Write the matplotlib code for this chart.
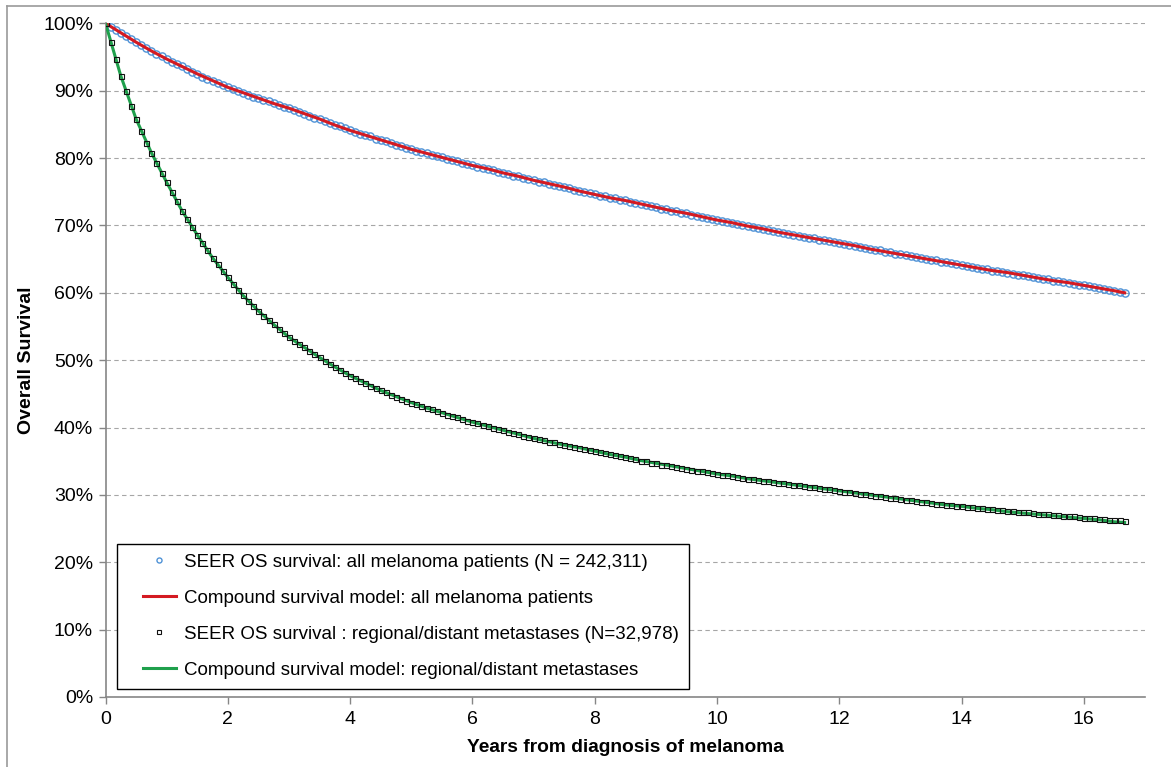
import matplotlib
matplotlib.use('Agg')
import matplotlib.pyplot as plt
from matplotlib.legend_handler import HandlerLine2D
import numpy as np

# 1. data (% surviving, one value per month)
months = np.arange(201)

seer_all = [
    100.0, 99.5, 99.0, 98.6, 98.1, 97.6, 97.2, 96.8, 96.3, 95.9, 95.5, 95.1, 94.7,
    94.3, 93.9, 93.6, 93.2, 92.8, 92.5, 92.1, 91.8, 91.5, 91.1, 90.8, 90.5,
    90.2, 89.9, 89.7, 89.4, 89.1, 88.9, 88.6, 88.4, 88.1, 87.9, 87.6, 87.4,
    87.1, 86.9, 86.6, 86.3, 86.0, 85.8, 85.5, 85.2, 84.9, 84.7, 84.4, 84.1,
    83.9, 83.6, 83.4, 83.2, 82.9, 82.7, 82.5, 82.2, 82.0, 81.8, 81.5, 81.3,
    81.1, 80.9, 80.7, 80.5, 80.3, 80.1, 79.9, 79.7, 79.5, 79.3, 79.1, 78.9,
    78.7, 78.5, 78.4, 78.2, 78.0, 77.8, 77.6, 77.4, 77.3, 77.1, 76.9, 76.7,
    76.5, 76.4, 76.2, 76.0, 75.8, 75.7, 75.5, 75.3, 75.1, 75.0, 74.8, 74.6,
    74.4, 74.3, 74.1, 74.0, 73.8, 73.7, 73.5, 73.3, 73.2, 73.0, 72.9, 72.7,
    72.5, 72.4, 72.2, 72.1, 71.9, 71.8, 71.6, 71.4, 71.3, 71.1, 71.0, 70.8,
    70.7, 70.5, 70.4, 70.2, 70.1, 69.9, 69.8, 69.6, 69.5, 69.3, 69.2, 69.0,
    68.9, 68.7, 68.6, 68.5, 68.3, 68.2, 68.1, 67.9, 67.8, 67.7, 67.5, 67.4,
    67.3, 67.1, 67.0, 66.8, 66.7, 66.5, 66.4, 66.3, 66.1, 66.0, 65.8, 65.7,
    65.6, 65.4, 65.3, 65.2, 65.0, 64.9, 64.8, 64.6, 64.5, 64.4, 64.2, 64.1,
    64.0, 63.8, 63.7, 63.6, 63.5, 63.3, 63.2, 63.1, 63.0, 62.8, 62.7, 62.6,
    62.5, 62.3, 62.2, 62.1, 62.0, 61.8, 61.7, 61.6, 61.5, 61.3, 61.2, 61.1,
    61.0, 60.8, 60.7, 60.5, 60.4, 60.3, 60.1, 60.0,
]

seer_meta = [
    100.0, 97.2, 94.7, 92.2, 89.9, 87.8, 85.8, 84.0, 82.3, 80.8, 79.3, 77.8, 76.4,
    75.0, 73.6, 72.2, 70.9, 69.7, 68.6, 67.4, 66.3, 65.2, 64.2, 63.2, 62.3,
    61.3, 60.4, 59.6, 58.8, 58.0, 57.3, 56.6, 55.9, 55.3, 54.6, 54.0, 53.4,
    52.9, 52.4, 51.9, 51.4, 50.9, 50.4, 49.9, 49.5, 49.0, 48.6, 48.1, 47.7,
    47.3, 46.9, 46.6, 46.2, 45.9, 45.5, 45.2, 44.9, 44.6, 44.3, 44.0, 43.7,
    43.5, 43.2, 42.9, 42.7, 42.4, 42.2, 41.9, 41.7, 41.5, 41.2, 41.0, 40.8,
    40.6, 40.4, 40.2, 40.0, 39.8, 39.6, 39.4, 39.2, 39.0, 38.8, 38.6, 38.4,
    38.3, 38.1, 37.9, 37.8, 37.6, 37.4, 37.3, 37.1, 37.0, 36.8, 36.6, 36.5,
    36.3, 36.2, 36.0, 35.9, 35.7, 35.6, 35.4, 35.3, 35.1, 35.0, 34.8, 34.7,
    34.5, 34.4, 34.3, 34.1, 34.0, 33.9, 33.7, 33.6, 33.5, 33.4, 33.2, 33.1,
    33.0, 32.9, 32.8, 32.6, 32.5, 32.4, 32.3, 32.2, 32.1, 32.0, 31.9, 31.8,
    31.7, 31.6, 31.5, 31.4, 31.3, 31.2, 31.1, 31.0, 30.9, 30.8, 30.7, 30.6,
    30.5, 30.4, 30.3, 30.2, 30.1, 30.0, 29.9, 29.8, 29.7, 29.6, 29.5, 29.4,
    29.3, 29.2, 29.1, 29.0, 28.9, 28.8, 28.7, 28.6, 28.5, 28.5, 28.4, 28.3,
    28.2, 28.2, 28.1, 28.0, 27.9, 27.9, 27.8, 27.7, 27.6, 27.6, 27.5, 27.4,
    27.4, 27.3, 27.2, 27.2, 27.1, 27.0, 27.0, 26.9, 26.8, 26.8, 26.7, 26.6,
    26.6, 26.5, 26.4, 26.4, 26.3, 26.2, 26.2, 26.1,
]

# model curves, every 3 months (+ last month)
model_months = np.append(np.arange(0, 199, 3), 200)

model_all = [
    100.0, 98.6, 97.2, 95.9, 94.7, 93.6, 92.5, 91.5, 90.5, 89.7, 88.9, 88.1,
    87.4, 86.6, 85.8, 84.9, 84.1, 83.4, 82.7, 82.0, 81.3, 80.7, 80.1, 79.5,
    78.9, 78.4, 77.8, 77.3, 76.7, 76.2, 75.7, 75.1, 74.6, 74.1, 73.7, 73.2,
    72.7, 72.2, 71.8, 71.3, 70.8, 70.4, 69.9, 69.5, 69.0, 68.6, 68.2, 67.8,
    67.4, 67.0, 66.5, 66.1, 65.7, 65.3, 64.9, 64.5, 64.1, 63.7, 63.3, 63.0,
    62.6, 62.2, 61.8, 61.5, 61.1, 60.7, 60.3, 60.0,
]

model_meta = [
    100.0, 92.2, 85.8, 80.8, 76.4, 72.2, 68.6, 65.2, 62.3, 59.6, 57.3, 55.3,
    53.4, 51.9, 50.4, 49.0, 47.7, 46.6, 45.5, 44.6, 43.7, 42.9, 42.2, 41.5,
    40.8, 40.2, 39.6, 39.0, 38.4, 37.9, 37.4, 37.0, 36.5, 36.0, 35.6, 35.1,
    34.7, 34.3, 33.9, 33.5, 33.1, 32.8, 32.4, 32.1, 31.8, 31.5, 31.2, 30.9,
    30.6, 30.3, 30.0, 29.7, 29.4, 29.1, 28.8, 28.5, 28.3, 28.0, 27.8, 27.5,
    27.3, 27.1, 26.9, 26.7, 26.5, 26.3, 26.0, 25.9,
]

labels = [
    'SEER OS survival: all melanoma patients (N = 242,311)',
    'Compound survival model: all melanoma patients',
    'SEER OS survival : regional/distant metastases (N=32,978)',
    'Compound survival model: regional/distant metastases',
]

years = months / 12.0
model_years = model_months / 12.0


# legend handle that leaves some empty room on the left (like excel)
class OffsetLine(HandlerLine2D):
    def get_xdata(self, legend, xdescent, ydescent, width, height, fontsize):
        off = 0.32 * width
        x0 = -xdescent + off
        x1 = -xdescent + width
        return [x0, x1], [0.5 * (x0 + x1)]


# 2. figure
plt.rcParams['font.family'] = ['Liberation Sans', 'DejaVu Sans']
fig = plt.figure(figsize=(11.71, 7.67), dpi=100)
ax = fig.add_axes([0.0901, 0.0913, 0.8877, 0.8783])

# outer frame of the original picture (only left/top visible)
fig.add_artist(plt.Line2D([0.006, 0.006], [0.0, 0.992], transform=fig.transFigure,
                          color='#9a9a9a', lw=1.2))
fig.add_artist(plt.Line2D([0.006, 1.0], [0.992, 0.992], transform=fig.transFigure,
                          color='#9a9a9a', lw=1.2))

ax.plot(years, seer_all, 'o', ms=5.2, mfc='none', mec='#4F92D6', mew=1.0,
        label=labels[0], zorder=3)
ax.plot(model_years, model_all, '-', color='#D41A22', lw=2.2,
        label=labels[1], zorder=4)
ax.plot(model_years, model_meta, '-', color='#1FA04C', lw=2.2,
        label=labels[3], zorder=4)
ax.plot(years, seer_meta, 's', ms=3.6, mfc='none', mec='#111111', mew=0.8,
        label=labels[2], zorder=5)

# 3. axes
ax.set_xlim(0, 17)
ax.set_ylim(0, 100)
ax.set_xticks(np.arange(0, 17, 2))
ax.set_yticks(np.arange(0, 101, 10))
ax.set_yticklabels([f'{v}%' for v in range(0, 101, 10)])
ax.tick_params(axis='both', labelsize=14, colors='#868686', labelcolor='black',
               length=5, width=1, direction='out')
ax.tick_params(axis='x', pad=5)
ax.tick_params(axis='y', pad=4)

ax.grid(axis='y', color='#A6A6A6', ls=(0, (4, 3)), lw=0.8)
ax.set_axisbelow(True)

for s in ['top', 'right']:
    ax.spines[s].set_visible(False)
for s in ['left', 'bottom']:
    ax.spines[s].set_color('#868686')
    ax.spines[s].set_linewidth(1.2)

ax.set_xlabel('Years from diagnosis of melanoma', fontsize=13.8, fontweight='bold', labelpad=8)
ax.set_ylabel('Overall Survival', fontsize=14, fontweight='bold', labelpad=6)

# legend in Excel order
h, l = ax.get_legend_handles_labels()
order = [l.index(t) for t in labels]
handles = [h[i] for i in order]
leg = ax.legend(handles, [l[i] for i in order],
                loc='lower left', bbox_to_anchor=(0.011, 0.012), borderaxespad=0,
                fontsize=13.5, frameon=True, fancybox=False, framealpha=1,
                edgecolor='black', labelspacing=1.0, handlelength=2.6,
                handletextpad=0.4, borderpad=0.55, markerscale=0.7,
                handler_map={hd: OffsetLine() for hd in handles})
leg.get_frame().set_linewidth(1.0)

plt.savefig('out.png', dpi=100)
